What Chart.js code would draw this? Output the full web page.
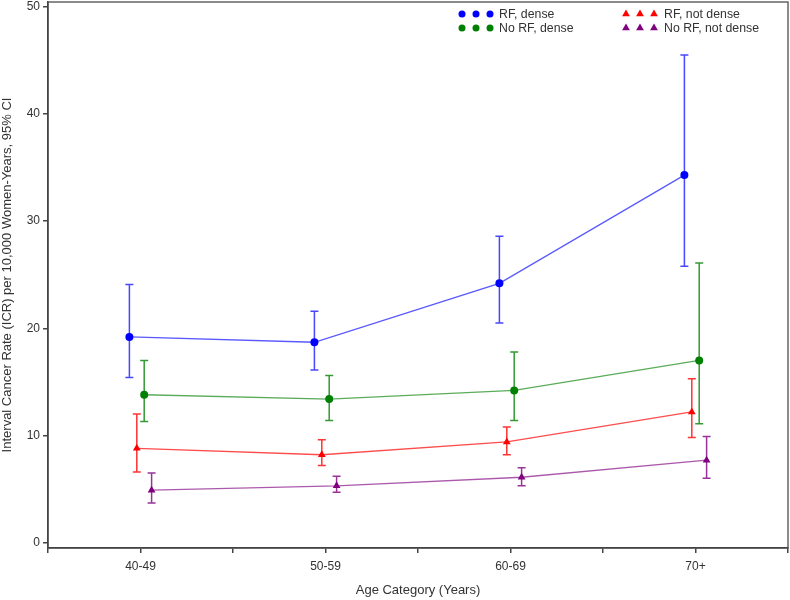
<!DOCTYPE html>
<html><head><meta charset="utf-8">
<script src="https://cdn.jsdelivr.net/npm/chart.js@4"></script>
<style>html,body{margin:0;padding:0;background:#fff}</style>
</head><body>
<canvas id="c" width="790" height="600"></canvas>
<script>
// ---- data ----
const categories = ['40-49', '50-59', '60-69', '70+'];
const yTicks = [0, 10, 20, 30, 40, 50];

const rfDense      = [19.2, 18.7, 24.2, 34.3];
const rfDenseLo    = [15.4, 16.1, 20.5, 25.8];
const rfDenseHi    = [24.1, 21.6, 28.6, 45.5];

const noRfDense    = [13.8, 13.4, 14.2, 17.0];
const noRfDenseLo  = [11.3, 11.4, 11.4, 11.1];
const noRfDenseHi  = [17.0, 15.6, 17.8, 26.1];

const rfNotDense   = [8.8, 8.2, 9.4, 12.2];
const rfNotDenseLo = [6.6, 7.2, 8.2, 9.8];
const rfNotDenseHi = [12.0, 9.6, 10.8, 15.3];

const noRfNotDense   = [4.9, 5.3, 6.1, 7.7];
const noRfNotDenseLo = [3.7, 4.7, 5.3, 6.0];
const noRfNotDenseHi = [6.5, 6.2, 7.0, 9.9];

const seriesNames = ['RF, dense', 'No RF, dense', 'RF, not dense', 'No RF, not dense'];

// ---- styling ----
const FONT = '"Liberation Sans", Arial, sans-serif';
const TXT = '#333333';

function mk(name, vals, lo, hi, off, marker, lineCol, barCol, ptStyle, r) {
  return {
    label: name,
    data: vals.map((v, i) => ({x: i + 1 + off, y: v})),
    errLo: lo.map((v, i) => ({x: i + 1 + off, y: v})),
    errHi: hi.map((v, i) => ({x: i + 1 + off, y: v})),
    barColor: barCol,
    borderColor: lineCol,
    backgroundColor: marker,
    pointBackgroundColor: marker,
    pointBorderColor: marker,
    pointStyle: ptStyle,
    pointRadius: r,
    pointBorderWidth: 0,
    borderWidth: 1.3,
    showLine: true,
    tension: 0
  };
}

const datasets = [
  mk(seriesNames[0], rfDense, rfDenseLo, rfDenseHi, -0.06, '#0000ff', 'rgba(60,60,255,0.85)', 'rgba(40,40,255,0.85)', 'circle', 4),
  mk(seriesNames[1], noRfDense, noRfDenseLo, noRfDenseHi, 0.02, '#008000', 'rgba(0,128,0,0.65)', 'rgba(0,128,0,0.8)', 'circle', 4),
  mk(seriesNames[2], rfNotDense, rfNotDenseLo, rfNotDenseHi, -0.02, '#ff0000', 'rgba(255,0,0,0.7)', 'rgba(255,0,0,0.8)', 'triangle', 4.5),
  mk(seriesNames[3], noRfNotDense, noRfNotDenseLo, noRfNotDenseHi, 0.06, '#800080', 'rgba(128,0,128,0.65)', 'rgba(128,0,128,0.8)', 'triangle', 4.5)
];

const errorBars = {
  id: 'errorBars',
  beforeDatasetsDraw(chart) {
    const {ctx, scales: {x, y}} = chart;
    ctx.save();
    ctx.lineWidth = 1.5;
    chart.data.datasets.forEach(ds => {
      ctx.strokeStyle = ds.barColor;
      ds.errLo.forEach((p, i) => {
        const px = x.getPixelForValue(p.x);
        const y1 = y.getPixelForValue(p.y);
        const y2 = y.getPixelForValue(ds.errHi[i].y);
        ctx.beginPath();
        ctx.moveTo(px, y1); ctx.lineTo(px, y2);
        ctx.moveTo(px - 4, y1); ctx.lineTo(px + 4, y1);
        ctx.moveTo(px - 4, y2); ctx.lineTo(px + 4, y2);
        ctx.stroke();
      });
    });
    ctx.restore();
  }
};

const frame = {
  id: 'frame',
  beforeDraw(chart) {
    const {ctx, chartArea: a} = chart;
    ctx.save();
    ctx.strokeStyle = '#666';
    ctx.lineWidth = 1.5;
    ctx.strokeRect(a.left, a.top, a.right - a.left, a.bottom - a.top);
    ctx.restore();
  }
};

const legendPlugin = {
  id: 'innerLegend',
  afterDraw(chart) {
    const {ctx} = chart;
    const ds = chart.data.datasets;
    const cols = [
      {mx: [462, 476, 490], tx: 499, items: [0, 1]},
      {mx: [626, 640, 654], tx: 664, items: [2, 3]}
    ];
    const rows = [14, 28];
    ctx.save();
    ctx.font = '12.3px ' + FONT;
    ctx.fillStyle = TXT;
    ctx.textBaseline = 'middle';
    ctx.textAlign = 'left';
    cols.forEach(c => {
      c.items.forEach((idx, r) => {
        const d = ds[idx];
        c.mx.forEach(mx => {
          ctx.fillStyle = d.pointBackgroundColor;
          ctx.strokeStyle = d.pointBackgroundColor;
          Chart.helpers.drawPoint(ctx, {pointStyle: d.pointStyle, radius: d.pointStyle === 'circle' ? 3.5 : 4.5, rotation: 0, borderWidth: 0}, mx, rows[r]);
        });
        ctx.fillStyle = TXT;
        ctx.fillText(d.label, c.tx, rows[r] + 1);
      });
    });
    ctx.restore();
  }
};

function noPad(s) { s.paddingTop = 0; s.paddingBottom = 0; s.paddingLeft = 0; s.paddingRight = 0; }

new Chart(document.getElementById('c'), {
  type: 'scatter',
  data: {datasets},
  options: {
    responsive: false,
    animation: false,
    layout: {autoPadding: false, padding: {top: 2, right: 2, left: 0, bottom: 0}},
    plugins: {legend: {display: false}, tooltip: {enabled: false}},
    scales: {
      x: {
        type: 'linear',
        min: 0.5, max: 4.5,
        afterBuildTicks(s) { s.ticks = [0.5, 1, 1.5, 2, 2.5, 3, 3.5, 4, 4.5].map(v => ({value: v})); },
        afterFit(s) { s.height = 52; noPad(s); },
        grid: {drawOnChartArea: false, drawTicks: true, tickLength: 5, color: '#444', lineWidth: 1.5},
        border: {display: true, color: '#444', width: 1.5},
        ticks: {
          autoSkip: false, maxRotation: 0, padding: 6, color: TXT,
          font: {family: FONT, size: 12},
          callback: v => Number.isInteger(v) ? categories[v - 1] : ''
        },
        title: {display: true, text: 'Age Category (Years)', color: TXT, font: {family: FONT, size: 13}, padding: {top: 0, bottom: 2}}
      },
      y: {
        type: 'linear',
        min: -0.5, max: 50.45,
        afterBuildTicks(s) { s.ticks = yTicks.map(v => ({value: v})); },
        afterFit(s) { s.width = 48; noPad(s); },
        grid: {drawOnChartArea: false, drawTicks: true, tickLength: 5, color: '#444', lineWidth: 1.5},
        border: {display: true, color: '#444', width: 1.5},
        ticks: {padding: 3, color: TXT, font: {family: FONT, size: 12}},
        title: {display: true, text: 'Interval Cancer Rate (ICR) per 10,000 Women-Years, 95% CI', color: TXT, font: {family: FONT, size: 13}, padding: {top: 0, bottom: 0}}
      }
    }
  },
  plugins: [frame, errorBars, legendPlugin]
});
</script>
</body></html>
